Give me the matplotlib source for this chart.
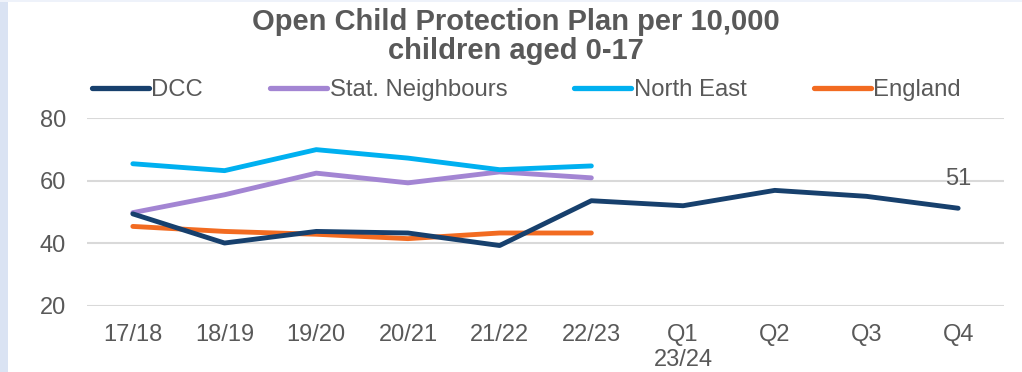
import matplotlib.pyplot as plt
from matplotlib.patches import Rectangle

plt.rcParams['font.family'] = ['Liberation Sans', 'DejaVu Sans']

categories = ['17/18', '18/19', '19/20', '20/21', '21/22', '22/23',
              'Q1\n23/24', 'Q2', 'Q3', 'Q4']
dcc = [49.4, 40.1, 43.8, 43.3, 39.3, 53.6, 52.0, 56.9, 55.0, 51.2]
stat_neighbours = [49.8, 55.5, 62.4, 59.3, 62.8, 60.9]
north_east = [65.4, 63.2, 69.9, 67.2, 63.5, 64.7]
england = [45.4, 43.8, 42.9, 41.5, 43.3, 43.3]
last_label = '51'

GREY = '#595959'
fig = plt.figure(figsize=(10.22, 3.72), dpi=100)
fig.patch.set_facecolor('white')
# light frame strip on the left and top
fig.patches.append(Rectangle((0, 0), 8 / 1022, 1, transform=fig.transFigure,
                             facecolor='#DAE3F3', edgecolor='none', zorder=0))
fig.patches.append(Rectangle((0, 1 - 2 / 372), 1, 2 / 372, transform=fig.transFigure,
                             facecolor='#EEF2FA', edgecolor='none', zorder=0))

ax = fig.add_axes([87 / 1022, 1 - 306 / 372, (1004 - 87) / 1022, (306 - 118) / 372])
x = list(range(len(categories)))

lw = 3.5
ax.plot(x, dcc, color='#17406D', lw=lw, solid_capstyle='round', label='DCC', zorder=3)
ax.plot(x[:len(stat_neighbours)], stat_neighbours, color='#A385D3', lw=lw,
        solid_capstyle='round', label='Stat. Neighbours', zorder=2)
ax.plot(x[:len(north_east)], north_east, color='#00B0F0', lw=lw,
        solid_capstyle='round', label='North East', zorder=2)
ax.plot(x[:len(england)], england, color='#F26B21', lw=lw,
        solid_capstyle='round', label='England', zorder=2)

ax.annotate(last_label, (x[-1], dcc[-1]), xytext=(0, 21), textcoords='offset points',
            ha='center', va='center', fontsize=17, color=GREY)

ax.set_xlim(-0.5, len(categories) - 0.5)
ax.set_ylim(20, 80)
ax.set_yticks([20, 40, 60, 80])
ax.set_xticks(x)
ax.set_xticklabels(categories)
ax.tick_params(axis='both', length=0, labelsize=17, labelcolor=GREY)
ax.tick_params(axis='y', pad=15)
ax.tick_params(axis='x', pad=13)
for lab in ax.get_xticklabels():
    lab.set_linespacing(1.15)
ax.grid(axis='y', color='#D9D9D9', lw=1.5)
ax.set_axisbelow(True)
for s in ax.spines.values():
    s.set_visible(False)

fig.text(0.505, 0.978, 'Open Child Protection Plan per 10,000\nchildren aged 0-17',
         ha='center', va='top', fontsize=21, fontweight='bold', color=GREY,
         linespacing=1.02)

leg = fig.legend(loc='center left', bbox_to_anchor=(82 / 1022, 1 - 90 / 372),
                 ncol=4, frameon=False, fontsize=17.2, handlelength=2.4,
                 handletextpad=0.1, columnspacing=2.8, borderaxespad=0)
for t in leg.get_texts():
    t.set_color(GREY)
for h in leg.get_lines():
    h.set_linewidth(3.8)

fig.savefig('out.png', dpi=100)
